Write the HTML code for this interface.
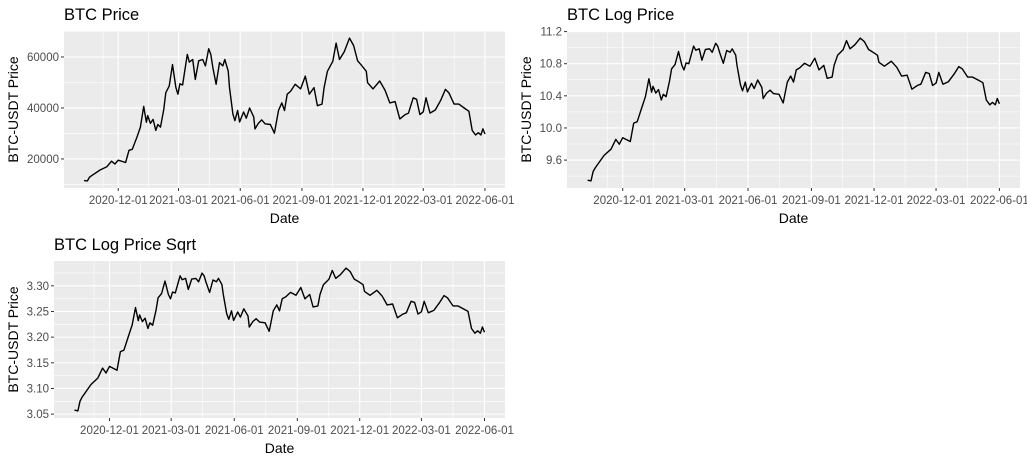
<!DOCTYPE html>
<html><head><meta charset="utf-8"><style>
body{margin:0;background:#fff;width:1027px;height:462px;overflow:hidden}
svg{font-family:"Liberation Sans",Arial,sans-serif}
</style></head><body>
<svg id="c" width="1027" height="462"></svg>
<script>
const dayOffsets=[-51,-46,-43,-40,-27,-17,-10,-5,0,11,16,21,28,33,38,42,44,48,52,56,59,63,68,71,76,81,86,89,92,96,103,106,111,115,120,126,130,135,138,141,146,151,156,159,164,166,171,174,178,181,187,191,196,202,204,209,214,219,227,233,239,244,248,252,257,264,272,279,285,292,297,304,307,312,320,325,330,337,345,351,357,362,370,372,380,390,398,405,413,420,428,433,440,445,450,455,459,465,473,481,488,493,501,508,516,523,528,533,537,541,544,547];
const prices=[11500,11400,12800,13400,15650,16900,19100,18000,19500,18600,23400,23800,28600,32500,40600,34400,37000,34000,35500,31200,33500,32500,39500,46000,48600,57000,48000,45400,49500,49000,61000,58000,59000,51200,58500,59000,56500,63200,61000,56000,49300,57800,56500,59000,54500,48000,37600,35000,39000,34500,38400,36000,40000,36500,31800,34000,35300,33800,33500,30100,39000,42000,39000,45400,46500,49300,47500,52500,45400,48000,40900,41500,48000,54400,58300,65400,59000,62000,67400,64500,58500,57000,54400,49900,47500,50600,46900,42000,42500,35700,37400,38000,44000,43400,37400,38500,44000,38000,39200,43000,47300,46000,41500,41500,40000,38700,31200,29400,30300,29400,31800,29800];
const xTickLabels=["2020-12-01","2021-03-01","2021-06-01","2021-09-01","2021-12-01","2022-03-01","2022-06-01"];
const xTickDays=[0,90,182,274,365,455,547];
const yTicksPrice=[20000,40000,60000];
const yTicksLog=[9.6,10.0,10.4,10.8,11.2];
const yTicksSqrt=[3.05,3.10,3.15,3.20,3.25,3.30];
const NS="http://www.w3.org/2000/svg";
const svg=document.getElementById('c');
function el(t,a,p){const e=document.createElementNS(NS,t);for(const k in a)e.setAttribute(k,a[k]);(p||svg).appendChild(e);return e;}
function panel(o){
  const g=el('g',{});
  
  
  const vals=o.vals;
  const xmin=Math.min(...dayOffsets),xmax=Math.max(...dayOffsets),xe=(xmax-xmin)*0.05;
  const ymin=Math.min(...vals),ymax=Math.max(...vals),ye=(ymax-ymin)*0.05;
  const X=d=>o.x0+(d-(xmin-xe))/((xmax+xe)-(xmin-xe))*(o.x1-o.x0);
  const Y=v=>o.y1-(v-(ymin-ye))/((ymax+ye)-(ymin-ye))*(o.y1-o.y0);
  const bg=el('rect',{x:o.x0,y:o.y0,width:o.x1-o.x0,height:o.y1-o.y0,fill:'#EBEBEB'},g);
  
  
  const clip=(v,a,b)=>v>=a&&v<=b;
  const st=o.ticks[1]-o.ticks[0];
  for(let i=-2;i<o.ticks.length+2;i++){const v=o.ticks[0]+(i-0.5)*st;const y=Y(v);if(clip(y,o.y0,o.y1))el('line',{x1:o.x0,x2:o.x1,y1:y,y2:y,stroke:'#fff','stroke-width':0.55},g);}
  for(let i=-1;i<=xTickDays.length;i++){let a=i<0?xTickDays[0]-45:xTickDays[i];let b=i+1<xTickDays.length?xTickDays[i+1]:a+91;if(i<0)b=xTickDays[0];const x=X((a+b)/2);if(clip(x,o.x0,o.x1))el('line',{x1:x,x2:x,y1:o.y0,y2:o.y1,stroke:'#fff','stroke-width':0.55},g);}
  o.ticks.forEach((v)=>{const y=Y(v);el('line',{x1:o.x0,x2:o.x1,y1:y,y2:y,stroke:'#fff','stroke-width':1.1},g);
    el('line',{x1:o.x0-3,x2:o.x0,y1:y,y2:y,stroke:'#333','stroke-width':1},g);
    const t=el('text',{x:o.x0-5,y:y+4,'text-anchor':'end','font-size':'11.5px',fill:'#4D4D4D'},g);t.textContent=o.fmt(v);
    
    });
  xTickDays.forEach((d,i)=>{const x=X(d);el('line',{x1:x,x2:x,y1:o.y0,y2:o.y1,stroke:'#fff','stroke-width':1.1},g);
    el('line',{x1:x,x2:x,y1:o.y1,y2:o.y1+3,stroke:'#333','stroke-width':1},g);
    const t=el('text',{x:x,y:o.y1+16,'text-anchor':'middle','font-size':'11.5px',fill:'#4D4D4D'},g);t.textContent=xTickLabels[i];
    
    });
  const pts=dayOffsets.map((d,i)=>X(d).toFixed(1)+','+Y(vals[i]).toFixed(1)).join(' ');
  const pl=el('polyline',{points:pts,fill:'none',stroke:'#000','stroke-width':1.4,'stroke-linejoin':'round'},g);
  
  
  const tt=el('text',{x:o.x0,y:o.y0-11,'font-size':'16.5px',fill:'#000'},g);tt.textContent=o.title;
  
  
  const xt=el('text',{x:(o.x0+o.x1)/2,y:o.y1+35,'text-anchor':'middle','font-size':'14px',fill:'#000'},g);xt.textContent='Date';
  
  
  const cy=(o.y0+o.y1)/2;
  const yt=el('text',{x:o.ytx,y:cy,'text-anchor':'middle','font-size':'14px',fill:'#000',transform:`rotate(-90 ${o.ytx} ${cy})`},g);yt.textContent='BTC-USDT Price';
  
  
}
const logVals=prices.map(p=>Math.log(p));
const sqrtVals=logVals.map(v=>Math.sqrt(v));
panel({name:'btc-price-panel',vals:prices,ticks:yTicksPrice,fmt:v=>String(v),x0:64,x1:505,y0:31,y1:188,title:'BTC Price',ytx:18});
panel({name:'btc-log-price-panel',vals:logVals,ticks:yTicksLog,fmt:v=>v.toFixed(1),x0:567,x1:1020,y0:31,y1:188,title:'BTC Log Price',ytx:531});
panel({name:'btc-log-sqrt-panel',vals:sqrtVals,ticks:yTicksSqrt,fmt:v=>v.toFixed(2),x0:54,x1:505,y0:261,y1:418,title:'BTC Log Price Sqrt',ytx:18});
</script>
</body></html>
